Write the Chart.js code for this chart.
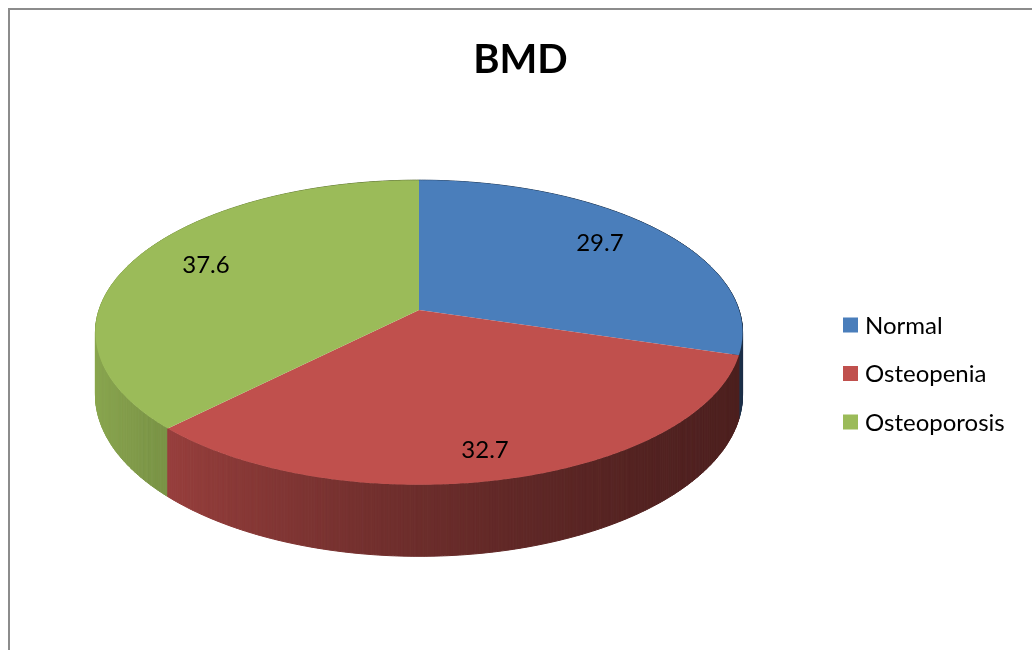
<!DOCTYPE html>
<html>
<head>
<meta charset="utf-8">
<script src="https://cdn.jsdelivr.net/npm/chart.js@4.4.1/dist/chart.umd.min.js"></script>
<style>
  html, body { margin: 0; padding: 0; background: #fff; }
  #wrap { width: 1032px; height: 650px; }
</style>
</head>
<body>
<div id="wrap"><canvas id="bmdChart" width="1032" height="650"></canvas></div>
<script>
const categories = ['Normal', 'Osteopenia', 'Osteoporosis'];
const bmdValues = [29.7, 32.7, 37.6];
const sliceColors = ['#4A7EBB', '#C0504D', '#9BBB59'];

// tilted disc: centre, radii, wall height and a bit of perspective
const disc = { cx: 419, cy: 310, rx: 320, ry: 149, depth: 61, persp: 0.1475 };
const legendBox = { x: 843, y: 325, step: 48.5, size: 15 };

function project(ang, frac, drop) {
    const u = Math.cos(ang) * frac;
    const v = Math.sin(ang) * frac;
    const s = 1 / (1 - disc.persp * v);
    return [disc.cx + disc.rx * u * s, disc.cy + (disc.ry * v + drop) * s];
}

function shade(hex, k) {
    const n = parseInt(hex.slice(1), 16);
    const r = Math.round(((n >> 16) & 255) * k);
    const g = Math.round(((n >> 8) & 255) * k);
    const b = Math.round((n & 255) * k);
    return 'rgb(' + r + ',' + g + ',' + b + ')';
}

// side wall gets darker towards the right
function wallLight(ang) {
    const t = (1 - Math.cos(ang)) / 2;
    return 0.40 + 0.50 * Math.pow(t, 1.6);
}

function pathOf(ctx, pts) {
    ctx.beginPath();
    ctx.moveTo(pts[0][0], pts[0][1]);
    for (let i = 1; i < pts.length; i++) ctx.lineTo(pts[i][0], pts[i][1]);
    ctx.closePath();
}

const STEP = Math.PI / 360;

const pie3d = {
    id: 'pie3d',
    beforeDraw(chart) {
        const ctx = chart.ctx;
        ctx.save();
        ctx.fillStyle = '#8c8c8c';
        ctx.fillRect(8, 8, 1024, 2);
        ctx.fillRect(8, 8, 2, 642);
        ctx.restore();
    },
    beforeDatasetsDraw(chart) {
        const ctx = chart.ctx;
        const arcs = chart.getDatasetMeta(0).data;
        ctx.save();

        // wall strips, back to front
        const strips = [];
        arcs.forEach((arc, i) => {
            const { startAngle, endAngle } = arc.getProps(['startAngle', 'endAngle'], true);
            const n = Math.max(2, Math.ceil((endAngle - startAngle) / STEP));
            for (let j = 0; j < n; j++) {
                strips.push({
                    a0: startAngle + (endAngle - startAngle) * j / n,
                    a1: startAngle + (endAngle - startAngle) * (j + 1) / n,
                    color: sliceColors[i]
                });
            }
        });
        strips.sort((p, q) => Math.sin((p.a0 + p.a1) / 2) - Math.sin((q.a0 + q.a1) / 2));
        ctx.lineWidth = 1;
        strips.forEach(st => {
            const c = shade(st.color, wallLight((st.a0 + st.a1) / 2));
            pathOf(ctx, [project(st.a0, 1, 0), project(st.a1, 1, 0),
                         project(st.a1, 1, disc.depth), project(st.a0, 1, disc.depth)]);
            ctx.fillStyle = c;
            ctx.strokeStyle = c;
            ctx.fill();
            ctx.stroke();
        });

        // top faces
        arcs.forEach((arc, i) => {
            const { startAngle, endAngle } = arc.getProps(['startAngle', 'endAngle'], true);
            const n = Math.max(2, Math.ceil((endAngle - startAngle) / STEP));
            const pts = [project(0, 0, 0)];
            for (let j = 0; j <= n; j++) {
                pts.push(project(startAngle + (endAngle - startAngle) * j / n, 1, 0));
            }
            pathOf(ctx, pts);
            ctx.fillStyle = sliceColors[i];
            ctx.fill();
        });
        ctx.restore();
        return false;
    },
    afterDraw(chart) {
        const ctx = chart.ctx;
        const arcs = chart.getDatasetMeta(0).data;
        ctx.save();

        // value labels; front slices get pushed down towards their wall
        ctx.font = '24px Lato';
        ctx.fillStyle = '#000';
        ctx.textAlign = 'center';
        ctx.textBaseline = 'middle';
        arcs.forEach((arc, i) => {
            const { startAngle, endAngle } = arc.getProps(['startAngle', 'endAngle'], true);
            const mid = (startAngle + endAngle) / 2;
            const drop = 0.35 * disc.depth * Math.max(0, Math.sin(mid));
            const p = project(mid, 0.75, drop);
            ctx.fillText(bmdValues[i].toFixed(1), p[0], p[1] - 4);
        });

        // legend
        ctx.font = '24px Lato';
        ctx.textAlign = 'left';
        categories.forEach((name, i) => {
            const y = legendBox.y + i * legendBox.step;
            ctx.fillStyle = sliceColors[i];
            ctx.fillRect(legendBox.x, y - legendBox.size / 2, legendBox.size, legendBox.size);
            ctx.fillStyle = '#000';
            ctx.fillText(name, legendBox.x + legendBox.size + 7, y + 1);
        });
        ctx.restore();
    }
};

new Chart(document.getElementById('bmdChart'), {
    type: 'pie',
    data: {
        labels: categories,
        datasets: [{
            data: bmdValues,
            backgroundColor: sliceColors,
            borderWidth: 0
        }]
    },
    options: {
        responsive: false,
        animation: false,
        events: [],
        layout: {
            padding: { left: 9, top: 12, right: 0, bottom: 134 }
        },
        plugins: {
            legend: { display: false },
            tooltip: { enabled: false },
            title: {
                display: true,
                text: 'BMD',
                color: '#000',
                font: { family: 'Lato', size: 40, weight: 'bold' },
                padding: { top: 24, bottom: 20 }
            }
        }
    },
    plugins: [pie3d]
});
</script>
</body>
</html>
